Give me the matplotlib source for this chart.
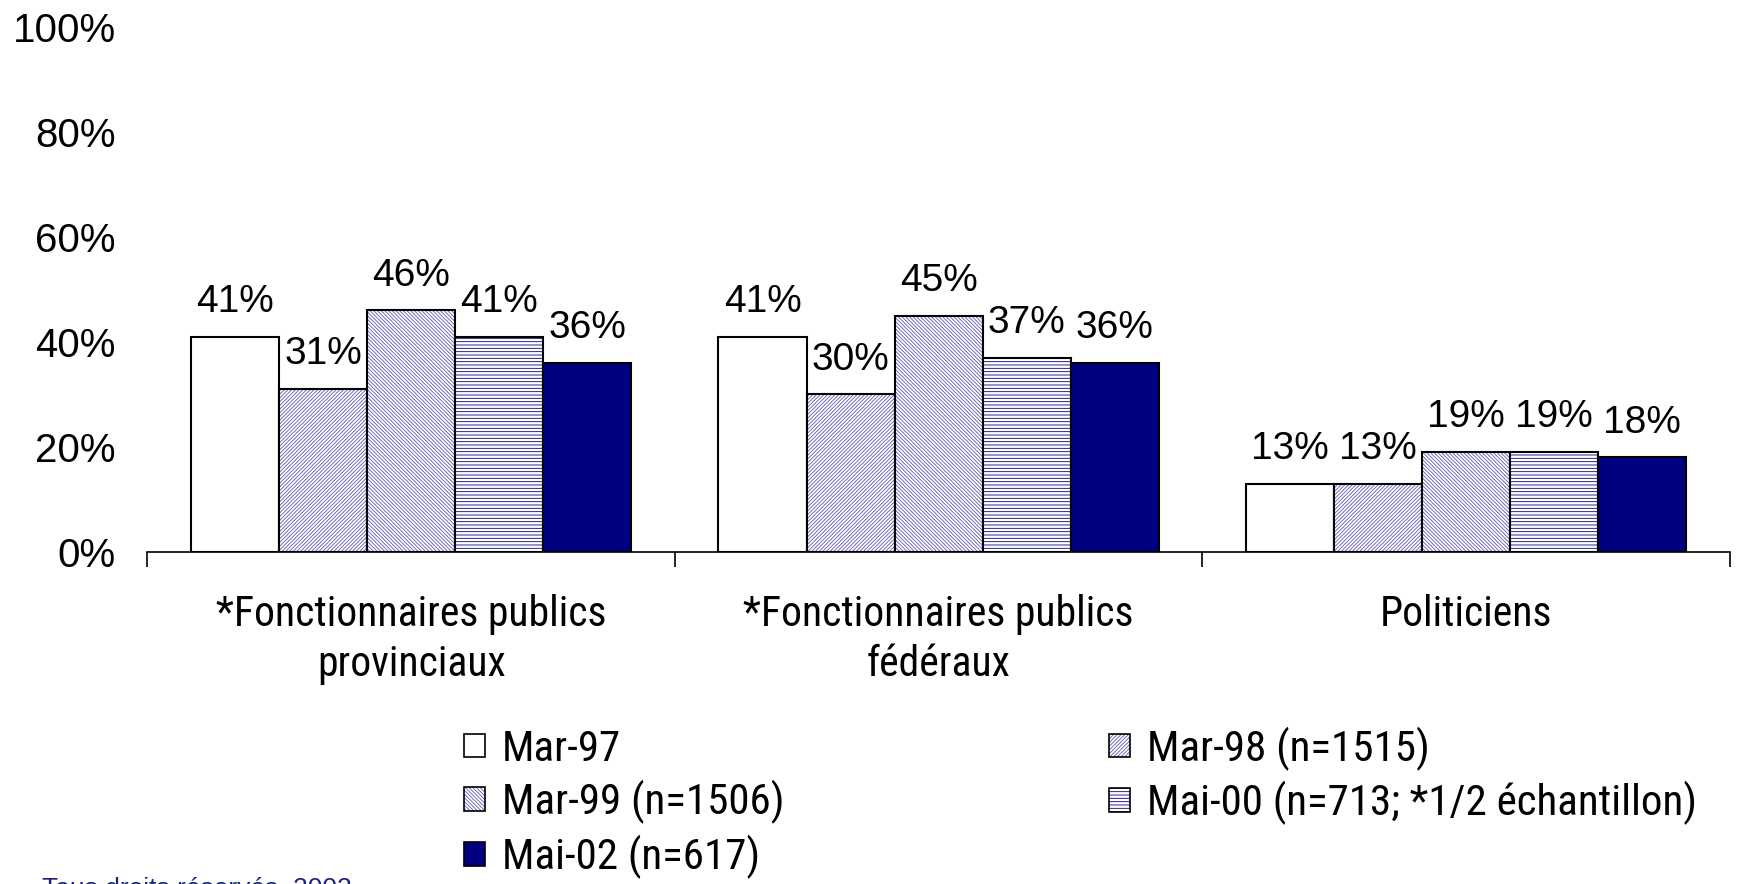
import numpy as np
import matplotlib
matplotlib.use('Agg')
import matplotlib.pyplot as plt
from matplotlib.patches import Patch
from matplotlib import font_manager

# data
categories = ['*Fonctionnaires publics\nprovinciaux',
              '*Fonctionnaires publics\nfédéraux',
              'Politiciens']
series = ['Mar-97', 'Mar-98 (n=1515)', 'Mar-99 (n=1506)',
          'Mai-00 (n=713; *1/2 échantillon)', 'Mai-02 (n=617)']
values = [
    [41, 41, 13],   # Mar-97
    [31, 30, 13],   # Mar-98
    [46, 45, 19],   # Mar-99
    [41, 37, 19],   # Mai-00
    [36, 36, 18],   # Mai-02
]
yticks = [0, 20, 40, 60, 80, 100]

# look of each series: (face colour, hatch, hatch colour)
styles = [('white', None, None),
          ('white', '/////////', '#5a5ab4'),
          ('white', '\\\\\\\\\\\\\\\\\\', '#5a5ab4'),
          ('white', '-----', '#000080'),
          ('#000080', None, None)]

plt.rcParams['font.family'] = ['Liberation Sans', 'DejaVu Sans']
plt.rcParams['hatch.linewidth'] = 0.6

# the labels and legend use a narrow face; pick one that is installed
fonts = font_manager.fontManager.ttflist
narrow = None
for fam in ['Liberation Sans Narrow', 'Arial Narrow', 'Roboto Condensed',
            'Open Sans Condensed', 'Noto Sans Condensed']:
    if any(f.name == fam for f in fonts):
        narrow = dict(family=fam)
        break
if narrow is None:
    for fam in ['Roboto', 'Noto Sans', 'Open Sans', 'DejaVu Sans']:
        if any(f.name == fam and f.stretch in ('condensed', 'semi-condensed')
               and f.weight in (400, 'normal', 'regular') for f in fonts):
            narrow = dict(family=fam, stretch='condensed')
            break
if narrow is None:
    narrow = dict(family='Liberation Sans')
    cat_size, leg_size = 25, 27
else:
    cat_size, leg_size = 30, 31

fig = plt.figure(figsize=(17.39, 8.84), dpi=100)
ax = fig.add_axes([0.0848, 0.3756, 0.9100, 0.5944])

x = np.arange(len(categories)) + 0.5
w = 0.167
handles = []
for j, (name, vals) in enumerate(zip(series, values)):
    fc, hatch, hc = styles[j]
    pos = x + (j - 2) * w
    # fill + hatch first, then a black outline on top
    ax.bar(pos, vals, width=w, color=fc, hatch=hatch,
           edgecolor=hc if hatch else fc, linewidth=0)
    ax.bar(pos, vals, width=w, fill=False, edgecolor='black', linewidth=1.5)
    for px, v in zip(pos, vals):
        ax.annotate(f'{v}%', (px, v), xytext=(0, 12), textcoords='offset points',
                    ha='center', va='bottom', fontsize=28)
    handles.append((Patch(facecolor=fc, hatch=hatch,
                          edgecolor=hc if hatch else fc, linewidth=0),
                    Patch(fill=False, edgecolor='black', linewidth=1.2)))

ax.set_xlim(0, len(categories))
ax.set_ylim(0, 100)
ax.set_yticks(yticks)
ax.set_yticklabels([f'{t}%' for t in yticks], fontsize=29)
ax.tick_params(axis='y', length=0, pad=23)

ax.set_xticks(np.arange(len(categories) + 1))
ax.set_xticklabels([])
ax.tick_params(axis='x', which='major', direction='out', length=11, width=1.2)
ax.set_xticks(x, minor=True)
ax.set_xticklabels(categories, minor=True, fontsize=cat_size, linespacing=1.3,
                   **narrow)
ax.tick_params(axis='x', which='minor', length=0, pad=30)

for s in ['top', 'right', 'left']:
    ax.spines[s].set_visible(False)
ax.spines['bottom'].set_linewidth(1.2)

# legend laid out row by row: reorder for column-wise filling
order = [0, 2, 4, 1, 3]
lp = dict(size=leg_size, **narrow)
leg = fig.legend([handles[i] for i in order], [series[i] for i in order],
                 ncol=2, loc='upper left', bbox_to_anchor=(0.267, 0.178),
                 frameon=False, prop=lp,
                 handlelength=0.47, handleheight=0.47, handletextpad=0.4,
                 columnspacing=7.55, labelspacing=0.24, borderpad=0,
                 borderaxespad=0)

fig.text(0.024, 0.008, 'Tous droits réservés, 2002', fontsize=19,
         color='#1a237e', va='top', ha='left')

fig.savefig('out.png', dpi=100)
